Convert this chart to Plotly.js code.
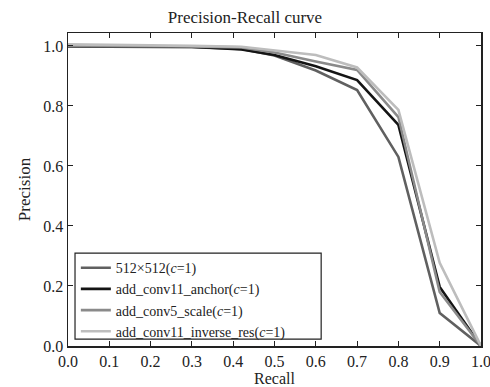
<!DOCTYPE html>
<html>
<head>
<meta charset="utf-8">
<script src="https://cdn.plot.ly/plotly-3.0.1.min.js"></script>
<style>html,body{margin:0;padding:0;background:#fff;}#chart{width:490px;height:387px;}</style>
</head>
<body>
<div id="chart"></div>
<script>
var recall = [0.0, 0.1, 0.2, 0.3, 0.42, 0.5, 0.6, 0.7, 0.8, 0.9, 1.0];
var seriesNames = ["512×512(<i>c</i>=1)", "add_conv11_anchor(<i>c</i>=1)", "add_conv5_scale(<i>c</i>=1)", "add_conv11_inverse_res(<i>c</i>=1)"];
var p512 = [0.998, 0.998, 0.997, 0.996, 0.99, 0.968, 0.918, 0.853, 0.63, 0.11, 0.0];
var pAnchor = [0.999, 0.999, 0.998, 0.997, 0.988, 0.97, 0.932, 0.886, 0.737, 0.197, 0.0];
var pScale = [1.0, 1.0, 0.999, 0.998, 0.995, 0.978, 0.948, 0.92, 0.763, 0.18, 0.0];
var pInverse = [1.005, 1.004, 1.002, 1.0, 0.997, 0.985, 0.97, 0.928, 0.787, 0.277, 0.0];
var colors = ["#606060", "#141414", "#8a8a8a", "#bdbdbd"];
var xTicks = [0.0, 0.1, 0.2, 0.3, 0.4, 0.5, 0.6, 0.7, 0.8, 0.9, 1.0];
var yTicks = [0.0, 0.2, 0.4, 0.6, 0.8, 1.0];

var ys = [p512, pAnchor, pScale, pInverse];
var traces = ys.map(function(y, i){
  return {x: recall, y: y, type: 'scatter', mode: 'lines', name: seriesNames[i],
    line: {color: colors[i], width: 2.6}};
});
var fam = 'Liberation Serif, Times New Roman, serif';
var font = {family: fam, color: '#222', size: 14};
var layout = {
  width: 490, height: 387,
  margin: {l: 68, r: 9, t: 33, b: 41},
  paper_bgcolor: '#fff', plot_bgcolor: '#fff',
  font: font,
  showlegend: true,
  title: {text: 'Precision-Recall curve', font: {family: fam, size: 17, color: '#222'}, x: 0.5, xanchor: 'center', y: 0.955, yanchor: 'middle'},
  xaxis: {range: [0, 1], tickvals: xTicks, ticktext: xTicks.map(function(v){return v.toFixed(1);}),
    ticks: 'inside', ticklen: 5, tickwidth: 1, tickcolor: '#222', mirror: 'ticks', showline: true, linecolor: '#222', linewidth: 1.5,
    showgrid: false, zeroline: false, ticklabeloverflow: 'allow',
    title: {text: 'Recall', font: {family: fam, size: 16, color: '#222'}, standoff: 4},
    tickfont: {family: fam, size: 16, color: '#222'}},
  yaxis: {range: [0, 1.043], tickvals: yTicks, ticktext: yTicks.map(function(v){return v.toFixed(1);}),
    ticks: 'inside', ticklen: 5, tickwidth: 1, tickcolor: '#222', mirror: 'ticks', showline: true, linecolor: '#222', linewidth: 1.5,
    showgrid: false, zeroline: false, ticklabeloverflow: 'allow',
    title: {text: 'Precision', font: {family: fam, size: 17, color: '#222'}, standoff: 8},
    tickfont: {family: fam, size: 16, color: '#222'}},
  legend: {x: 0.019, y: 0.300, xanchor: 'left', yanchor: 'top', bgcolor: 'rgba(0,0,0,0)', borderwidth: 0,
    font: {family: fam, size: 14, color: '#222'}, itemwidth: 30, tracegroupgap: 0},
  shapes: [{type: 'rect', xref: 'paper', yref: 'paper', x0: 0.017, x1: 0.613, y0: 0.022, y1: 0.297,
    line: {color: '#222', width: 1.2}, fillcolor: 'rgba(0,0,0,0)', layer: 'above'}]
};
Plotly.newPlot('chart', traces, layout, {displayModeBar: false, staticPlot: true});
</script>
</body>
</html>
